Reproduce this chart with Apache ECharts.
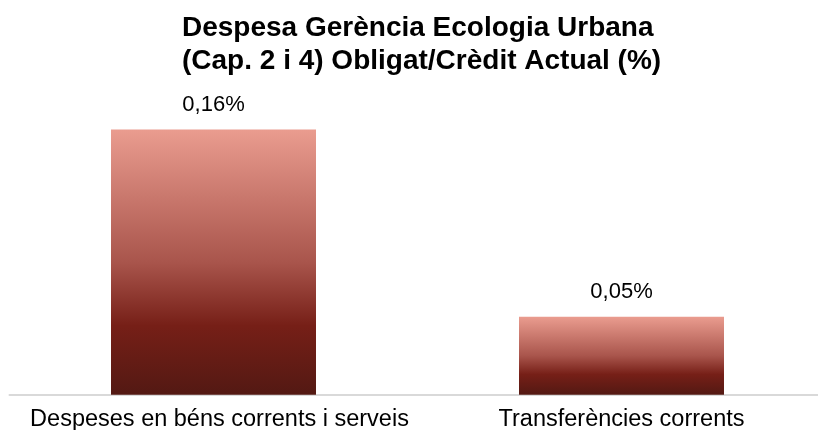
<!DOCTYPE html>
<html>
<head>
<meta charset="utf-8">
<script src="https://cdn.jsdelivr.net/npm/echarts@6/dist/echarts.min.js"></script>
<style>
html,body{margin:0;padding:0;background:#fff;}
#chart{width:818px;height:430px;}
</style>
</head>
<body>
<div id="chart"></div>
<script>
var titleText = 'Despesa Gerència Ecologia Urbana\n(Cap. 2 i 4) Obligat/Crèdit Actual (%)';
var categories = ['Despeses en béns corrents i serveis', 'Transferències corrents'];
var values = [0.162, 0.0476];

var chart = echarts.init(document.getElementById('chart'), null, {renderer: 'canvas'});
var font = '"Liberation Sans", Arial, sans-serif';
chart.setOption({
  animation: false,
  backgroundColor: '#ffffff',
  title: {
    text: titleText,
    left: 177,
    top: 7,
    textAlign: 'left',
    textStyle: {fontFamily: font, fontSize: 28, fontWeight: 'bold', color: '#000', lineHeight: 33}
  },
  grid: {left: 9.5, width: 816, top: 100, bottom: 35.3, containLabel: false, outerBoundsMode: 'none'},
  xAxis: {
    type: 'category',
    data: categories,
    axisLine: {show: true, lineStyle: {color: '#d9d9d9', width: 2}},
    axisTick: {show: false},
    axisLabel: {
      fontFamily: font, fontSize: 23.5, color: '#000', margin: 13, interval: 0,
      formatter: function (v, i) { return i === 0 ? '{a|' + v + '}' : v; },
      rich: {a: {fontFamily: font, fontSize: 23.5, color: '#000', padding: [0, 0, 0, 12]}}
    }
  },
  yAxis: {
    type: 'value',
    min: 0,
    max: 0.18,
    show: false,
    splitLine: {show: false}
  },
  series: [{
    type: 'bar',
    data: values,
    barWidth: 205,
    itemStyle: {
      color: new echarts.graphic.LinearGradient(0, 0, 0, 1, [
        {offset: 0, color: '#ea9c8f'},
        {offset: 0.5, color: '#a9554c'},
        {offset: 0.74, color: '#761f17'},
        {offset: 1, color: '#531913'}
      ])
    },
    label: {
      show: true,
      position: 'top',
      distance: 14,
      fontFamily: font,
      fontSize: 22,
      color: '#000',
      formatter: function (p) { return p.value.toFixed(2).replace('.', ',') + '%'; }
    }
  }]
});
</script>
</body>
</html>
